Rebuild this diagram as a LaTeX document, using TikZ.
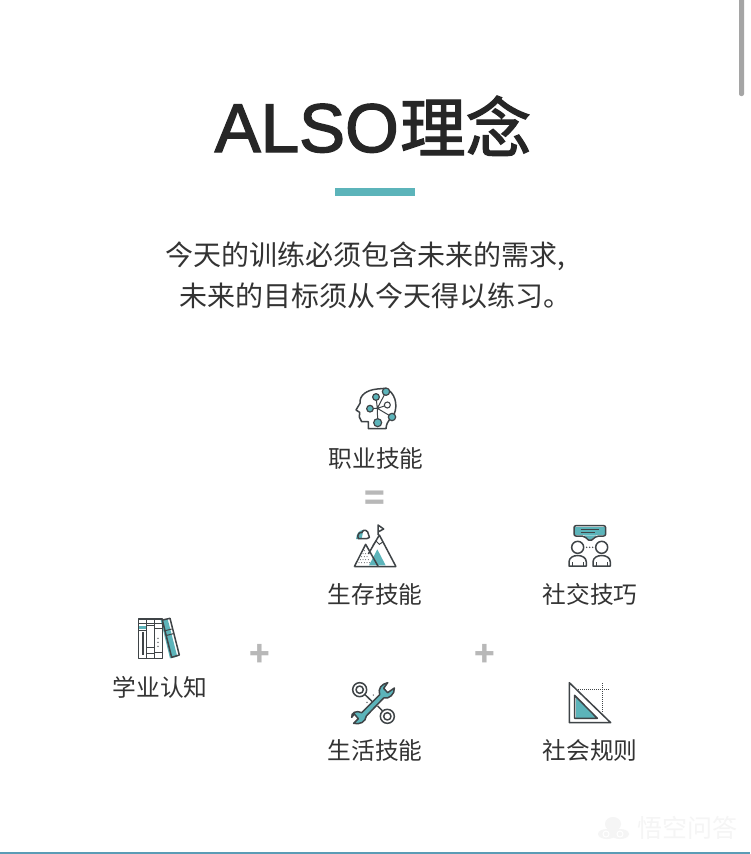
\documentclass[tikz,border=0pt]{standalone}
\usepackage{fontspec}
\setmainfont{Noto Sans CJK SC}
\newfontfamily\titlefont[FakeBold=2]{Noto Sans CJK SC}
\newfontfamily\titlelatin[FakeBold=2]{Liberation Sans}
\definecolor{tealc}{HTML}{5CB4BA}
\definecolor{inkc}{HTML}{3F4447}
\definecolor{txtc}{HTML}{333333}
\definecolor{opc}{HTML}{B8B8B8}
\definecolor{rulec}{HTML}{5B9BB5}
\tikzset{
  lbl/.style={text=txtc,font=\fontsize{23.7}{26}\selectfont,inner sep=0pt},
  sub/.style={text=txtc,font=\fontsize{28}{30}\selectfont,inner sep=0pt,anchor=base west},
  opr/.style={text=opc,font=\fontsize{34}{36}\selectfont\bfseries,inner sep=0pt},
  ink/.style={draw=inkc,line width=1.5pt,line join=round},
  thin ink/.style={draw=inkc,line width=1pt}
}
\begin{document}
\begin{tikzpicture}[x=1pt,y=-1pt]
\useasboundingbox (0,0) rectangle (750,854);
\fill[white] (0,0) rectangle (750,854);
\fill[opc!90!black,rounded corners=2pt] (739,-4) rectangle (744,96);
\node[anchor=base east,inner sep=0pt,text=black!85,font=\titlelatin\fontsize{69}{76}\selectfont] (also) at (399,152) {ALSO};
\node[anchor=base west,inner sep=0pt,text=black!85,font=\titlefont\fontsize{65.5}{76}\selectfont] (idea) at (400,152) {理念};
\fill[tealc] (335,188) rectangle (415,196);
\node[sub] (line1) at (165,265) {今天的训练必须包含未来的需求,};
\node[sub] (line2) at (179,306) {未来的目标须从今天得以练习。};
\node[lbl] (job) at (376,458) {职业技能};
\node[opr] (eq) at (375,501) {=};
\node[lbl] (survive) at (375,594) {生存技能};
\node[lbl] (social) at (590,594) {社交技巧};
\node[lbl] (study) at (160,687) {学业认知};
\node[opr] (plusa) at (260,655) {+};
\node[opr] (plusb) at (485,655) {+};
\node[lbl] (life) at (375,750) {生活技能};
\node[lbl] (rules) at (590,750) {社会规则};
% head
\begin{scope}[shift={(320,375)},scale=1/3]
\draw[ink] (145,161)--(145,140)--(125,140)--(118,126)--(119,112)--(108,105)--(120,85)..controls (118,60) and (140,45)..(172,42)--(195,40)..controls (225,50) and (235,90)..(222,118)..controls (215,130) and (200,135)..(198,161)--cycle;
\draw[thin ink] (172,100)--(168,66) (172,100)--(198,50) (172,100)--(150,101) (172,100)--(202,90) (172,100)--(216,126) (172,100)--(173,143);
\foreach \x/\y/\r in {168/66/10,198/50/11,150/101/10,216/126/11,173/143/12}
  \filldraw[fill=tealc,draw=inkc,line width=1.2pt] (\x,\y) circle (\r);
\draw[fill=white,draw=inkc,line width=1.1pt] (202,90) circle (9);
\end{scope}
% mountains
\begin{scope}[shift={(320,480)},scale=1/3]
\fill[tealc] (147,256)--(172,208)--(197,256)--cycle;
\fill[tealc] (108,177)..controls (110,160) and (118,150)..(130,150)--(125,177)--cycle;
\draw[ink] (103,260)--(228,260) (103,260)--(137,193)--(175,260) (145,222)--(178,165)--(228,260);
\draw[thin ink] (158,197)--(168,183)--(178,193)--(190,185);
\draw[ink] (174,165)--(174,135)--(191,147)--(174,156);
\draw[ink] (115,176)..controls (110,165) and (118,155)..(125,158)..controls (130,145) and (145,150)..(146,165)..controls (152,170) and (148,176)..(140,176)--cycle;
\foreach \i in {0,...,4} \foreach \j in {0,...,\i}
  \fill[inkc] (133-\i*4+\j*8,212+\i*9) circle (1.5);
\end{scope}
% people
\begin{scope}[shift={(540,510)},scale=1/3]
\fill[tealc] (104,50) rectangle (195,76);
\fill[tealc] (132,76)--(150,90)--(170,76)--cycle;
\draw[ink,rounded corners=2pt] (102,47)--(197,47)--(197,78)--(170,78)--(150,94)--(132,78)--(102,78)--cycle;
\draw[thin ink] (122,58)--(178,58) (122,66)--(165,66);
\foreach \x in {113,185} {
  \draw[ink] (\x,112) circle (18);
  \draw[ink] (\x-26,168)--(\x-26,156)..controls (\x-26,130) and (\x+26,130)..(\x+26,156)--(\x+26,168)--cycle;
  \draw[thin ink] (\x-17,156)--(\x-17,167) (\x+17,156)--(\x+17,167);
}
\foreach \x in {140,149,158} \fill[inkc] (\x,112) circle (2.4);
\end{scope}
% books
\begin{scope}[shift={(120,605)},scale=1/3]
\fill[tealc] (122,45)--(143,42)--(172,155)--(150,160)--cycle;
\fill[tealc] (57,62) rectangle (78,72);
\draw[ink] (55,42) rectangle (127,160) (79,42)--(79,160) (103,42)--(103,160);
\draw[thin ink] (55,55)--(127,55) (55,76)--(78,76) (79,62)--(103,62) (79,126)--(103,126) (79,144)--(103,144) (103,70)--(127,70) (103,142)--(127,142);
\draw[ink] (69,82)--(69,150);
\foreach \y in {100,112,124} \fill[inkc] (114,\y) circle (2);
\draw[ink] (127,45)--(150,40)--(178,150)--(155,157)--cycle;
\draw[thin ink] (132,78)--(155,72) (137,92)--(160,86);
\end{scope}
% tools
\begin{scope}[shift={(335,670)},scale=1/3]
\draw[ink] (88,72)--(112,95) (128,108)--(142,122);
\draw[ink] (74,59) circle (21);
\draw[ink] (74,59) circle (11);
\draw[ink] (157,139) circle (21);
\draw[ink] (157,139) circle (11);
\filldraw[fill=tealc,ink] (80,128)--(134,74)..controls (128,55) and (140,42)..(158,38)--(146,55)--(158,68)--(178,54)..controls (180,72) and (162,88)..(146,84)--(94,138)..controls (92,155) and (75,165)..(56,160)--(70,146)--(58,132)--(50,142)..controls (48,128) and (65,120)..(80,128)--cycle;
\foreach \x/\y in {115/75,96/97} \fill[inkc] (\x,\y) circle (2);
\end{scope}
% set square
\begin{scope}[shift={(550,670)},scale=1/3]
\draw[draw=inkc,densely dotted,line width=1pt] (85,58)--(180,58) (158,40)--(158,130);
\fill[white] (58,38)--(182,158)--(58,158)--cycle;
\draw[ink] (58,38)--(182,158)--(58,158)--cycle;
\fill[tealc] (78,82)--(142,145)--(78,145)--cycle;
\draw[ink] (74,76)--(142,145)--(74,145)--cycle;
\end{scope}
% watermark and bottom rule
\node[inner sep=0pt,text=black!4,font=\fontsize{25}{27}\selectfont] (mark) at (687,828) {悟空问答};
\fill[black!4] (607,834) ellipse (9 and 5);
\fill[black!4] (620,834) ellipse (9 and 5);
\fill[black!4] (613,824) ellipse (8 and 7);
\draw[white,line width=1pt] (606,834) circle (3) (620,834) circle (3);
\fill[rulec] (0,852) rectangle (750,854);
\end{tikzpicture}
\end{document}
